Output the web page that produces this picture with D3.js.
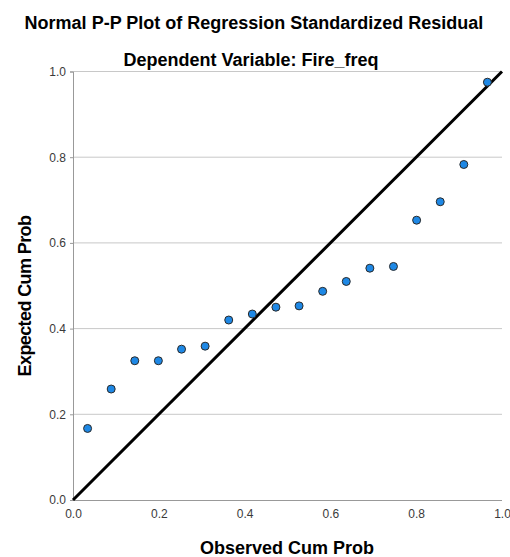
<!DOCTYPE html>
<html>
<head>
<meta charset="utf-8">
<script src="https://cdn.jsdelivr.net/npm/d3@7"></script>
<style>
  body { margin: 0; background: #fff; }
  svg text { font-family: "Liberation Sans", Arial, sans-serif; }
  .tick text { fill: #3a3a3a; font-size: 12px; }
</style>
</head>
<body>
<svg width="510" height="557"></svg>
<script>
// observed cumulative probability (x) and expected cumulative probability (y)
const observed = [0.034, 0.089, 0.144, 0.199, 0.253, 0.308, 0.363, 0.418, 0.473,
                  0.527, 0.582, 0.637, 0.692, 0.747, 0.801, 0.856, 0.911, 0.966];
const expected = [0.167, 0.259, 0.325, 0.325, 0.352, 0.359, 0.420, 0.434, 0.450,
                  0.453, 0.487, 0.510, 0.541, 0.545, 0.653, 0.696, 0.783, 0.975];
const ticks = [0, 0.2, 0.4, 0.6, 0.8, 1.0];

const margin = { top: 71.5, left: 73 },
    width = 429,
    height = 428.5;

const svg = d3.select("svg");
const g = svg.append("g")
    .attr("transform", "translate(" + margin.left + "," + margin.top + ")");

let x = d3.scaleLinear().domain([0, 1]).range([0, width]);
let y = d3.scaleLinear().domain([0, 1]).range([height, 0]);

// gridlines
g.selectAll(".grid")
    .data(ticks.slice(1))
    .enter()
    .append("line")
    .attr("x1", 0)
    .attr("x2", width)
    .attr("y1", d => y(d))
    .attr("y2", d => y(d))
    .attr("stroke", "#c8c8c8")
    .attr("stroke-width", 1);

// axes
const xAxis = g.append("g")
    .attr("transform", "translate(0," + height + ")")
    .call(d3.axisBottom(x).tickValues(ticks).tickFormat(d3.format(".1f")).tickSize(0).tickPadding(9));
const yAxis = g.append("g")
    .call(d3.axisLeft(y).tickValues(ticks).tickFormat(d3.format(".1f")).tickSize(3).tickPadding(4));

[xAxis, yAxis].forEach(a => {
    a.select(".domain").attr("stroke", "#999");
    a.selectAll(".tick line").attr("stroke", "#999");
});
xAxis.select(".domain").attr("d", "M0,0.5H" + width);

// reference diagonal
g.append("line")
    .attr("x1", x(0)).attr("y1", y(0))
    .attr("x2", x(1)).attr("y2", y(1))
    .attr("stroke", "#000")
    .attr("stroke-width", 3);

// points
g.selectAll("circle")
    .data(observed)
    .enter()
    .append("circle")
    .attr("cx", d => x(d))
    .attr("cy", (d, i) => y(expected[i]))
    .attr("r", 4)
    .attr("fill", "#1e88e5")
    .attr("stroke", "#2a2a2a")
    .attr("stroke-width", 1);

// titles
svg.append("text")
    .attr("x", 254).attr("y", 29)
    .attr("text-anchor", "middle")
    .attr("font-size", "18px").attr("font-weight", "bold")
    .text("Normal P-P Plot of Regression Standardized Residual");

svg.append("text")
    .attr("x", 251).attr("y", 66)
    .attr("text-anchor", "middle")
    .attr("font-size", "18px").attr("font-weight", "bold")
    .text("Dependent Variable: Fire_freq");

svg.append("text")
    .attr("x", 287).attr("y", 554)
    .attr("text-anchor", "middle")
    .attr("font-size", "18px").attr("font-weight", "bold")
    .text("Observed Cum Prob");

svg.append("text")
    .attr("transform", "translate(31,296) rotate(-90)")
    .attr("text-anchor", "middle")
    .attr("font-size", "18px").attr("font-weight", "bold")
    .attr("letter-spacing", "-0.6px")
    .text("Expected Cum Prob");
</script>
</body>
</html>
